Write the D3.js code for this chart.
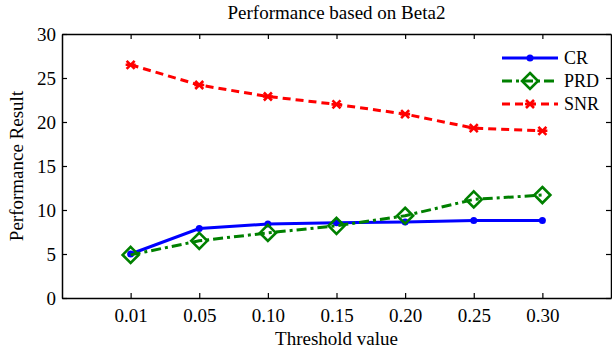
<!DOCTYPE html>
<html>
<head>
<meta charset="utf-8">
<script src="https://cdn.jsdelivr.net/npm/d3@7"></script>
<style>
  body { margin: 0; background: #fff; }
  text { font-family: "Liberation Serif", "Times New Roman", serif; }
</style>
</head>
<body>
<svg id="chart" width="612" height="351"></svg>
<script>
var thresholds = ["0.01", "0.05", "0.10", "0.15", "0.20", "0.25", "0.30"];
var crValues = [5.0, 7.9, 8.4, 8.55, 8.65, 8.8, 8.8];
var prdValues = [4.9, 6.5, 7.4, 8.2, 9.35, 11.2, 11.7];
var snrValues = [26.5, 24.2, 22.9, 22.0, 20.9, 19.3, 19.0];
var yTicks = [0, 5, 10, 15, 20, 25, 30];

var margin = { top: 34, right: 1, bottom: 53, left: 62 },
  width = 612 - margin.left - margin.right,
  height = 351 - margin.top - margin.bottom;

var svg = d3.select("#chart");
var g = svg.append("g")
  .attr("transform", "translate(" + margin.left + "," + margin.top + ")");

var x = d3.scaleLinear().domain([0, thresholds.length + 1]).range([0, width]);
var y = d3.scaleLinear().domain([0, 30]).range([height, 0]);
var idx = d3.range(1, thresholds.length + 1);

// axes, ticks pointing inward
g.append("g")
  .attr("transform", "translate(0," + height + ")")
  .call(d3.axisBottom(x).tickValues(idx).tickSizeInner(-5).tickSizeOuter(0)
    .tickPadding(11).tickFormat(function (d) { return thresholds[d - 1]; }));
g.append("g")
  .call(d3.axisTop(x).tickValues(idx).tickSizeInner(-5).tickSizeOuter(0).tickFormat(""));
g.append("g")
  .call(d3.axisLeft(y).tickValues(yTicks).tickSizeInner(-5).tickSizeOuter(0).tickPadding(6));
g.append("g")
  .attr("transform", "translate(" + width + ",0)")
  .call(d3.axisRight(y).tickValues(yTicks).tickSizeInner(-5).tickSizeOuter(0).tickFormat(""));

g.selectAll(".domain").attr("stroke", "#000").attr("stroke-width", 1.5);
g.selectAll(".tick line").attr("stroke", "#000").attr("stroke-width", 1.2);
g.selectAll(".tick text")
  .style("font-family", "Liberation Serif")
  .style("font-size", "19px")
  .attr("fill", "#000");

var series = [
  { name: "CR", values: crValues, color: "#0000ff", dash: null, marker: "circle" },
  { name: "PRD", values: prdValues, color: "#008000", dash: "10,4,3,4", marker: "diamond" },
  { name: "SNR", values: snrValues, color: "#ff0000", dash: "8,5", marker: "cross" }
];

var line = d3.line()
  .x(function (d, i) { return x(i + 1); })
  .y(function (d) { return y(d); });

function drawMarker(sel, type, color) {
  if (type == "circle") {
    sel.append("circle").attr("r", 3.5).attr("fill", color);
  } else if (type == "diamond") {
    sel.append("path").attr("d", "M0,-8L8,0L0,8L-8,0Z")
      .attr("fill", "none").attr("stroke", color).attr("stroke-width", 2.6);
  } else {
    sel.append("path").attr("d", "M-4,-4L4,4M-4,4L4,-4M-5,0L5,0")
      .attr("stroke", color).attr("stroke-width", 2.6);
  }
}

series.forEach(function (s) {
  g.append("path")
    .datum(s.values)
    .attr("fill", "none")
    .attr("stroke", s.color)
    .attr("stroke-width", 3)
    .attr("stroke-dasharray", s.dash)
    .attr("d", line);
  s.values.forEach(function (v, i) {
    var m = g.append("g").attr("transform", "translate(" + x(i + 1) + "," + y(v) + ")");
    drawMarker(m, s.marker, s.color);
  });
});

// legend
var legend = svg.append("g").attr("transform", "translate(502,58)");
series.forEach(function (s, i) {
  var row = legend.append("g").attr("transform", "translate(0," + (i * 23) + ")");
  row.append("line").attr("x1", 0).attr("x2", 56).attr("y1", 0).attr("y2", 0)
    .attr("stroke", s.color).attr("stroke-width", 3).attr("stroke-dasharray", s.dash);
  var m = row.append("g").attr("transform", "translate(28,0)");
  drawMarker(m, s.marker, s.color);
  row.append("text").attr("x", 62).attr("y", 6).style("font-size", "18px").text(s.name);
});

// titles
svg.append("text").attr("x", margin.left + width / 2).attr("y", 19)
  .attr("text-anchor", "middle").style("font-size", "19px").text("Performance based on Beta2");
svg.append("text").attr("x", margin.left + width / 2).attr("y", 345)
  .attr("text-anchor", "middle").style("font-size", "19px").text("Threshold value");
svg.append("text")
  .attr("transform", "translate(23," + (margin.top + height / 2) + ") rotate(-90)")
  .attr("text-anchor", "middle").style("font-size", "19px").text("Performance Result");
</script>
</body>
</html>
